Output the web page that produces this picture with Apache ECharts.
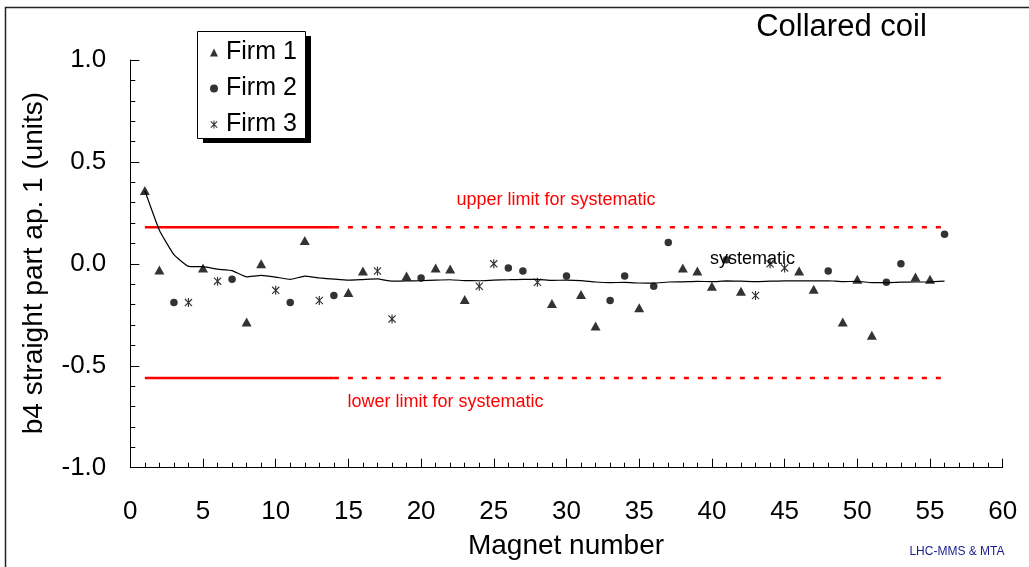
<!DOCTYPE html>
<html>
<head>
<meta charset="utf-8">
<script src="https://cdn.jsdelivr.net/npm/echarts@6/dist/echarts.min.js"></script>
<style>
  html, body { margin: 0; padding: 0; background: #fff; }
  #chart { width: 1029px; height: 567px; }
</style>
</head>
<body>
<div id="chart"></div>
<script>
// b4 harmonic, straight part, aperture 1 - collared coil measurements per magnet
const firm1Magnets = [1, 2, 5, 8, 9, 12, 15, 16, 19, 21, 22, 23, 29, 31, 32, 35, 38, 39, 40, 42, 46, 47, 49, 50, 51, 54, 55];
const firm1Values  = [0.36, -0.03, -0.02, -0.285, 0.0, 0.115, -0.14, -0.035, -0.06, -0.02, -0.025, -0.175, -0.195, -0.15, -0.305, -0.215, -0.02, -0.035, -0.11, -0.135, -0.035, -0.125, -0.285, -0.075, -0.35, -0.065, -0.075];

const firm2Magnets = [3, 7, 11, 14, 20, 26, 27, 30, 33, 34, 36, 37, 41, 48, 52, 53, 56];
const firm2Values  = [-0.19, -0.075, -0.19, -0.155, -0.07, -0.02, -0.035, -0.06, -0.18, -0.06, -0.11, 0.105, 0.02, -0.035, -0.09, 0.0, 0.145];

const firm3Magnets = [4, 6, 10, 13, 17, 18, 24, 25, 28, 43, 44, 45];
const firm3Values  = [-0.19, -0.085, -0.13, -0.18, -0.035, -0.27, -0.11, 0.0, -0.09, -0.155, 0.0, -0.02];

// running systematic value, magnets 1..56
const systematicValues = [
  0.36, 0.165, 0.045, -0.012, -0.014, -0.026, -0.033, -0.064, -0.057, -0.065,
  -0.076, -0.06, -0.069, -0.075, -0.08, -0.077, -0.074, -0.085, -0.084, -0.083,
  -0.08, -0.078, -0.082, -0.083, -0.08, -0.078, -0.076, -0.076, -0.081, -0.08,
  -0.082, -0.089, -0.092, -0.091, -0.094, -0.095, -0.089, -0.088, -0.086, -0.087,
  -0.084, -0.085, -0.087, -0.085, -0.084, -0.083, -0.084, -0.083, -0.087, -0.086,
  -0.092, -0.092, -0.09, -0.089, -0.089, -0.085
];

// limits for the systematic value
const upperLimit = 0.18;
const lowerLimit = -0.56;
const limitFixedRange = [1, 14];      // drawn solid
const limitProjectedRange = [14, 56]; // drawn dashed

const xTicks = { min: 0, max: 60, step: 5 };
const yTicks = { min: -1, max: 1, step: 0.5 };

const FONT = '"Liberation Sans", Arial, Helvetica, sans-serif';

// six-armed asterisk built from three filled bars
const asteriskPath = 'path://M-0.13,-1 L0.13,-1 L0.13,1 L-0.13,1 Z ' +
  'M-0.708,-0.892 L0.892,0.708 L0.708,0.892 L-0.892,-0.708 Z ' +
  'M-0.892,0.708 L0.708,-0.892 L0.892,-0.708 L-0.708,0.892 Z';

const pairs = (xs, ys) => xs.map((x, i) => [x, ys[i]]);
const systematicData = systematicValues.map((v, i) => [i + 1, v]);
const segment = (range, v) => [[range[0], v], [range[1], v]];

const chart = echarts.init(document.getElementById('chart'), null, { renderer: 'canvas' });

const textEl = (x, y, text, size, fill, extra) => Object.assign({
  type: 'text', z: 100, silent: true, x: x, y: y,
  style: { text: text, fontSize: size, fontFamily: FONT, fill: fill, textAlign: 'center', textVerticalAlign: 'middle' }
}, extra || {});

const option = {
  animation: false,
  backgroundColor: '#fff',
  textStyle: { fontFamily: FONT },
  grid: { left: 130.3, right: 26.3, top: 60, bottom: 99.3, containLabel: false, outerBoundsMode: 'none' },
  xAxis: {
    type: 'value',
    min: xTicks.min, max: xTicks.max, interval: xTicks.step,
    axisLine: { show: true, onZero: false, lineStyle: { color: '#000', width: 1 } },
    axisTick: { show: true, inside: true, length: 9, lineStyle: { color: '#000', width: 1 } },
    minorTick: { show: true, splitNumber: 5, length: 5, lineStyle: { color: '#000', width: 1 } },
    splitLine: { show: false },
    axisLabel: { color: '#000', fontSize: 26, fontFamily: FONT, margin: 31 }
  },
  yAxis: {
    type: 'value',
    min: yTicks.min, max: yTicks.max, interval: yTicks.step,
    axisLine: { show: true, onZero: false, lineStyle: { color: '#000', width: 1 } },
    axisTick: { show: true, inside: true, length: 9, lineStyle: { color: '#000', width: 1 } },
    minorTick: { show: true, splitNumber: 5, length: 5, lineStyle: { color: '#000', width: 1 } },
    splitLine: { show: false },
    axisLabel: {
      color: '#000', fontSize: 26, fontFamily: FONT, margin: 24,
      formatter: v => v.toFixed(1)
    }
  },
  legend: {
    orient: 'vertical',
    left: 198, top: 32,
    data: [
      { name: 'Firm 1', icon: 'triangle' },
      { name: 'Firm 2', icon: 'circle' },
      { name: 'Firm 3', icon: asteriskPath }
    ],
    itemWidth: 8, itemHeight: 8,
    itemGap: 11,
    padding: [8, 9, 6, 12],
    textStyle: { color: '#000', fontSize: 25, fontFamily: FONT, padding: [0, 0, 0, 3] },
    selectedMode: false
  },
  series: [
    {
      name: 'systematic', type: 'line', data: systematicData,
      symbol: 'none', smooth: 0.12, z: 2,
      lineStyle: { color: '#000', width: 1.2 }
    },
    {
      name: 'upper fixed', type: 'line', data: segment(limitFixedRange, upperLimit),
      symbol: 'none', z: 1, lineStyle: { color: '#ff0000', width: 2.5 }
    },
    {
      name: 'upper projected', type: 'line', data: segment(limitProjectedRange, upperLimit),
      symbol: 'none', z: 1, lineStyle: { color: '#ff0000', width: 2.5, type: [5, 9] }
    },
    {
      name: 'lower fixed', type: 'line', data: segment(limitFixedRange, lowerLimit),
      symbol: 'none', z: 1, lineStyle: { color: '#ff0000', width: 2.5 }
    },
    {
      name: 'lower projected', type: 'line', data: segment(limitProjectedRange, lowerLimit),
      symbol: 'none', z: 1, lineStyle: { color: '#ff0000', width: 2.5, type: [5, 9] }
    },
    {
      name: 'Firm 1', type: 'scatter', data: pairs(firm1Magnets, firm1Values),
      symbol: 'triangle', symbolSize: [10, 9], z: 3,
      itemStyle: { color: '#000' }
    },
    {
      name: 'Firm 2', type: 'scatter', data: pairs(firm2Magnets, firm2Values),
      symbol: 'circle', symbolSize: 7.5, z: 3,
      itemStyle: { color: '#000' }
    },
    {
      name: 'Firm 3', type: 'scatter', data: pairs(firm3Magnets, firm3Values),
      symbol: asteriskPath, symbolSize: [8, 9], z: 3,
      itemStyle: { color: '#000' }
    }
  ],
  graphic: [
    // outer frame
    {
      type: 'rect', z: 100, silent: true,
      shape: { x: 5.5, y: 7.5, width: 1200, height: 800 },
      style: { fill: 'none', stroke: '#222', lineWidth: 1.5 }
    },
    // legend box with drop shadow
    {
      type: 'rect', z: 0, silent: true,
      shape: { x: 203, y: 36, width: 108, height: 107 },
      style: { fill: '#000', stroke: null }
    },
    {
      type: 'rect', z: 1, silent: true,
      shape: { x: 197.5, y: 31.5, width: 108, height: 107 },
      style: { fill: '#fff', stroke: '#000', lineWidth: 1 }
    },
    textEl(841.5, 27, 'Collared coil', 31, '#000'),
    textEl(34, 263, 'b4 straight part ap. 1 (units)', 28, '#000', { rotation: Math.PI / 2 }),
    textEl(566, 546, 'Magnet number', 28, '#000'),
    textEl(556, 200, 'upper limit for systematic', 18, '#ff0000'),
    textEl(445.5, 402, 'lower limit for systematic', 18, '#ff0000'),
    textEl(752.5, 259, 'systematic', 18, '#000'),
    textEl(957, 552, 'LHC-MMS & MTA', 12, '#1a1a8c')
  ]
};

chart.setOption(option);
</script>
</body>
</html>
